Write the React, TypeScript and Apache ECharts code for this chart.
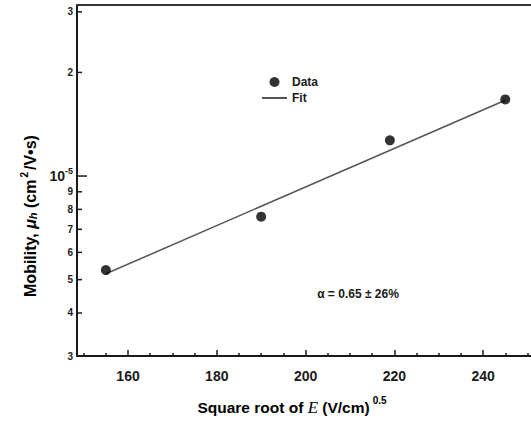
import React, { useEffect, useRef } from "react";
import * as echarts from "echarts";

const dataX = [155, 190, 219, 245];
const dataY = [5.33e-6, 7.62e-6, 1.27e-5, 1.67e-5];
const fitX = [155, 245];
const fitY = [5.2e-6, 1.66e-5];
const xMajorTicks = [160, 180, 200, 220, 240];
const xMinorTicks = [150, 155, 165, 170, 175, 185, 190, 195, 205, 210, 215, 225, 230, 235, 245, 250];
const yTicks = [3e-6, 4e-6, 5e-6, 6e-6, 7e-6, 8e-6, 9e-6, 1e-5, 2e-5, 3e-5];
const yTickLabels = ["3", "4", "5", "6", "7", "8", "9", "10^-5", "2", "3"];

const X_MIN = 148.5;
const X_MAX = 250.8;
const Y_MIN = 3e-6;
const Y_MAX = 3.14e-5;
const FONT = "'Liberation Sans', Arial, sans-serif";
const INK = "#1a1a1a";

export default function App() {
  const ref = useRef<HTMLDivElement>(null);
  useEffect(() => {
    if (!ref.current) return;
    const chart = echarts.init(ref.current, null, { renderer: "svg" });
    const baseX = {
      type: "value" as const,
      min: X_MIN,
      max: X_MAX,
      splitLine: { show: false },
    };
    chart.setOption({
      animation: false,
      backgroundColor: "#fff",
      grid: { left: 77, right: 0, top: 5, bottom: 67, containLabel: false },
      legend: {
        data: [
          { name: "Data" },
          { name: "Fit", itemStyle: { opacity: 0, borderWidth: 0 } },
        ],
        orient: "vertical",
        left: 261,
        top: 76,
        padding: 0,
        itemWidth: 25,
        itemHeight: 10,
        itemGap: 4,
        textStyle: { fontFamily: FONT, fontWeight: "bold", fontSize: 12, color: INK },
      },
      xAxis: [
        {
          ...baseX,
          position: "bottom",
          axisLine: { show: true, lineStyle: { color: INK, width: 2 } },
          axisTick: { show: true, inside: true, length: 6, customValues: xMajorTicks, lineStyle: { color: INK, width: 1.5 } },
          axisLabel: {
            show: true,
            customValues: xMajorTicks,
            fontFamily: FONT,
            fontWeight: "bold",
            fontSize: 14,
            color: INK,
            margin: 13,
          },
        },
        {
          ...baseX,
          position: "bottom",
          axisLine: { show: false },
          axisTick: { show: true, inside: true, length: 3, customValues: xMinorTicks, lineStyle: { color: INK, width: 1.5 } },
          axisLabel: { show: false },
        },
        {
          ...baseX,
          position: "top",
          axisLine: { show: true, lineStyle: { color: "#333", width: 2 } },
          axisTick: { show: false },
          axisLabel: { show: false },
        },
      ],
      yAxis: {
        type: "log",
        logBase: 10,
        min: Y_MIN,
        max: Y_MAX,
        axisLine: { show: true, lineStyle: { color: INK, width: 2 } },
        axisTick: { show: false },
        axisLabel: { show: false },
        splitLine: { show: false },
        minorTick: { show: false },
      },
      series: [
        {
          name: "Fit",
          type: "line",
          xAxisIndex: 0,
          data: fitX.map((x, i) => [x, fitY[i]]),
          symbol: "none",
          lineStyle: { color: "#555", width: 1.5 },
          itemStyle: { color: "#555" },
          z: 2,
        },
        {
          name: "Data",
          type: "scatter",
          xAxisIndex: 0,
          data: dataX.map((x, i) => [x, dataY[i]]),
          symbol: "circle",
          symbolSize: 10,
          itemStyle: { color: "#000" },
          z: 3,
        },
        {
          name: "yticks",
          type: "custom",
          xAxisIndex: 0,
          clip: false,
          silent: true,
          data: yTicks.map((v, i) => [X_MIN, v, i]),
          renderItem: (params: any, api: any) => {
            const p = api.coord([api.value(0), api.value(1)]);
            const i = api.value(2) as number;
            const lbl = yTickLabels[i];
            const isMajor = lbl.indexOf("^") >= 0;
            const text = isMajor ? "{b|10}{s|-5}" : lbl;
            return {
              type: "group",
              children: [
                {
                  type: "line",
                  shape: { x1: p[0], y1: p[1], x2: p[0] + (isMajor ? 10 : 5), y2: p[1] },
                  style: { stroke: INK, lineWidth: 1.5 },
                },
                {
                  type: "text",
                  x: p[0] - 4,
                  y: p[1],
                  style: {
                    text,
                    align: "right",
                    verticalAlign: "middle",
                    fontFamily: FONT,
                    fontWeight: "bold",
                    fontSize: 10,
                    fill: INK,
                    rich: {
                      b: { fontFamily: FONT, fontWeight: "bold", fontSize: 14, fill: INK, color: INK },
                      s: { fontFamily: FONT, fontWeight: "bold", fontSize: 9, fill: INK, color: INK, padding: [0, 0, 10, 0] },
                    },
                  },
                },
              ],
            };
          },
        },
      ],
      graphic: [
        {
          type: "text",
          x: 30,
          y: 216,
          rotation: Math.PI / 2,
          style: {
            text: "{n|Mobility, }{i|μ}{sub|h}{n| (cm}{sup|2}{n|/V•s)}",
            align: "center",
            verticalAlign: "middle",
            rich: {
              n: { fontFamily: FONT, fontWeight: "bold", fontSize: 16, color: INK },
              i: { fontFamily: FONT, fontWeight: "bold", fontStyle: "italic", fontSize: 16, color: INK },
              sub: { fontFamily: FONT, fontWeight: "bold", fontStyle: "italic", fontSize: 11, color: INK, padding: [6, 0, 0, 0] },
              sup: { fontFamily: FONT, fontWeight: "bold", fontSize: 10, color: INK, padding: [0, 2, 12, 2] },
            },
          },
        },
        {
          type: "text",
          x: 292,
          y: 407,
          style: {
            text: "{n|Square root of }{e|E}{n| (V/cm)}{sup|0.5}",
            align: "center",
            verticalAlign: "middle",
            rich: {
              n: { fontFamily: FONT, fontWeight: "bold", fontSize: 15.5, color: INK },
              e: { fontFamily: "'Liberation Serif', 'Times New Roman', serif", fontStyle: "italic", fontSize: 17, color: INK },
              sup: { fontFamily: FONT, fontWeight: "bold", fontSize: 10, color: INK, padding: [0, 0, 14, 3] },
            },
          },
        },
        {
          type: "text",
          x: 358,
          y: 294,
          style: {
            text: "α = 0.65 ± 26%",
            align: "center",
            verticalAlign: "middle",
            fontFamily: FONT,
            fontWeight: "bold",
            fontSize: 12,
            fill: INK,
          },
        },
      ],
    });
    return () => chart.dispose();
  }, []);
  return (
    <div
      ref={ref}
      style={{ position: "absolute", left: 0, top: 0, width: 531, height: 423 }}
    />
  );
}
